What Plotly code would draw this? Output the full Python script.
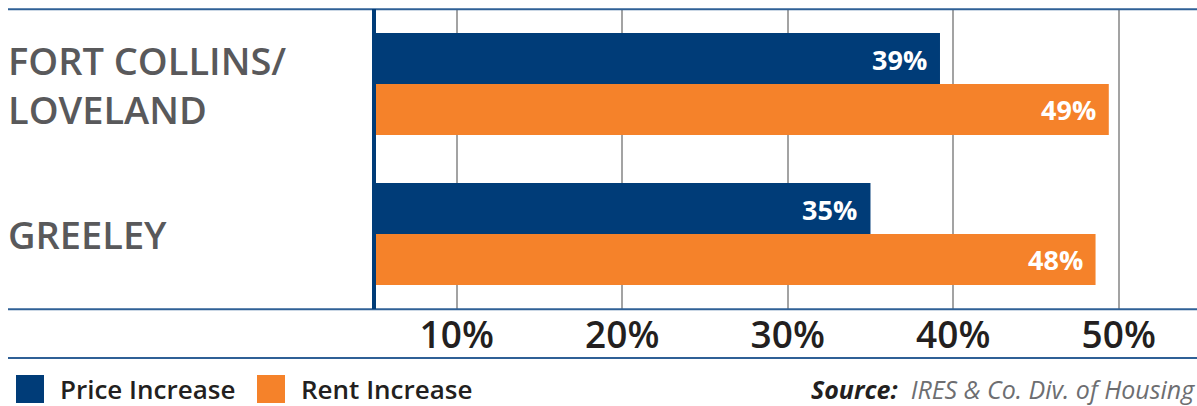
import plotly.graph_objects as go

# ---- data ----
categories = ["FORT COLLINS/<br>LOVELAND", "GREELEY"]
series_names = ["Price Increase", "Rent Increase"]
price_values = [39.2, 35.0]
rent_values = [49.4, 48.6]
price_labels = ["39%", "35%"]
rent_labels = ["49%", "48%"]
tick_values = [10, 20, 30, 40, 50]
tick_labels = ["10%", "20%", "30%", "40%", "50%"]
source_label = "Source:"
source_text = "IRES &amp; Co. Div. of Housing"

NAVY = "#003c78"
ORANGE = "#f5822a"
LINE_BLUE = "#2f6096"
GRID = "#a3a3a3"
LABEL_GRAY = "#59595b"
DARK = "#231f20"
FONT = "Open Sans"

W, H = 1197, 406
ML, MR, MT, MB = 374, 0, 9, 97
PW = W - ML - MR
PH = H - MT - MB

def px_x(px):
    return (px - ML) / PW

def px_y(py):
    return (H - MB - py) / PH

fig = go.Figure()
fig.add_trace(go.Bar(y=categories, x=price_values, orientation="h", name=series_names[0],
                     marker=dict(color=NAVY, line=dict(width=0)), showlegend=False))
fig.add_trace(go.Bar(y=categories, x=rent_values, orientation="h", name=series_names[1],
                     marker=dict(color=ORANGE, line=dict(width=0)), showlegend=False))

annotations = []
# value labels inside bar ends
for vals, labs, shift in [(price_values, price_labels, 25), (rent_values, rent_labels, -25)]:
    for c, v, t in zip(categories, vals, labs):
        annotations.append(dict(x=v, y=c, xref="x", yref="y", text=t, showarrow=False,
                                xanchor="right", yanchor="middle", xshift=-11, yshift=shift,
                                font=dict(family=FONT, size=27, color="white", weight="bold")))
# category labels
for c in categories:
    annotations.append(dict(x=px_x(6), y=c, xref="paper", yref="y", text=c, showarrow=False,
                            xanchor="left", yanchor="middle", align="left",
                            font=dict(family=FONT, size=38, color=LABEL_GRAY, weight=600)))
# legend
legend_items = [(series_names[0], NAVY, 16), (series_names[1], ORANGE, 257)]
shapes = []
for name, col, x0 in legend_items:
    shapes.append(dict(type="rect", xref="paper", yref="paper", x0=px_x(x0), x1=px_x(x0 + 28),
                       y0=px_y(403), y1=px_y(375), fillcolor=col, line=dict(width=0)))
    annotations.append(dict(x=px_x(x0 + 42), y=px_y(389), xref="paper", yref="paper", text=name,
                            showarrow=False, xanchor="left", yanchor="middle",
                            font=dict(family=FONT, size=26, color=DARK, weight=600)))
# source
annotations.append(dict(x=px_x(809), y=px_y(389), xref="paper", yref="paper",
                        text=f"<b><i>{source_label}</i></b>  <span style='color:#6d6e71'><i>{source_text}</i></span>",
                        showarrow=False, xanchor="left", yanchor="middle",
                        font=dict(family=FONT, size=25, color=DARK)))

# horizontal rules
for py in [9.3, 309.3, 358]:
    shapes.append(dict(type="line", xref="paper", yref="paper", x0=px_x(8), x1=1,
                       y0=px_y(py), y1=px_y(py), line=dict(color=LINE_BLUE, width=2)))
# vertical axis line
shapes.append(dict(type="line", xref="paper", yref="paper", x0=px_x(374), x1=px_x(374),
                   y0=0, y1=1, line=dict(color=NAVY, width=4)))

fig.update_layout(
    width=W, height=H,
    margin=dict(l=ML, r=MR, t=MT, b=MB, pad=0),
    paper_bgcolor="white", plot_bgcolor="white",
    barmode="group", bargap=0.32, bargroupgap=0,
    xaxis=dict(range=[5.0, 54.73], tickvals=tick_values, ticktext=tick_labels,
               showgrid=True, gridcolor=GRID, gridwidth=1.5, zeroline=False, showline=False,
               ticks="", ticklabelstandoff=1,
               tickfont=dict(family=FONT, size=37, color=DARK, weight=600)),
    yaxis=dict(autorange="reversed", showticklabels=False, showgrid=False, zeroline=False,
               showline=False, ticks=""),
    annotations=annotations, shapes=shapes,
)

fig.write_html("out.html")
